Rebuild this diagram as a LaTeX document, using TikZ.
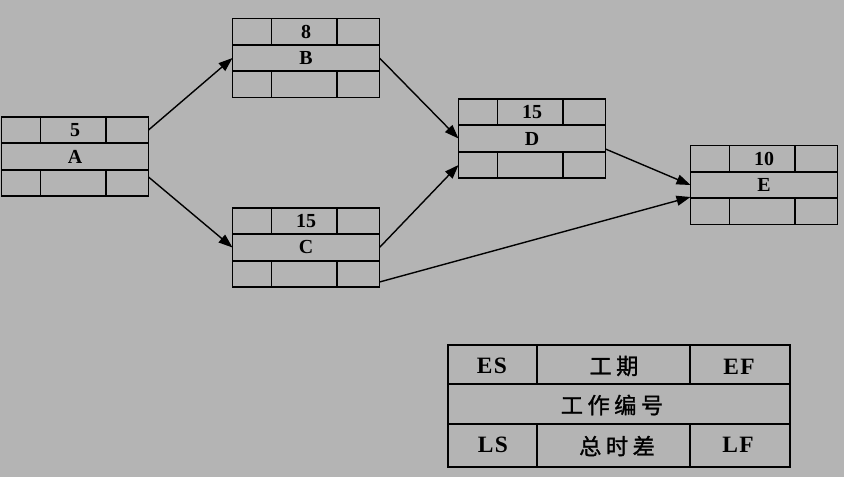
\documentclass[tikz,border=0pt]{standalone}
\usepackage{fontspec}
\setmainfont{Liberation Serif}
\newfontfamily\keyfont{Liberation Serif}[LetterSpace=6]
\newfontfamily\cjk{Noto Sans CJK SC}[LetterSpace=20, FakeBold=1.2]
\usetikzlibrary{arrows.meta, calc}
\definecolor{bggray}{RGB}{180,180,180}

\begin{document}
\begin{tikzpicture}[
    x=0.03cm, y=-0.03cm,
    act/.style={draw, line width=1.5pt, outer sep=0pt, minimum width=4.41cm, minimum height=2.37cm, inner sep=0pt,
        font=\fontsize{17}{18}\selectfont\bfseries,
        label={[anchor=center, font=\fontsize{17}{18}\selectfont\bfseries, yshift=-0.395cm]north:#1}},
    cell/.style={line width=1.5pt},
    link/.style={-{Triangle[length=0.42cm, width=0.3cm]}, line width=1.2pt},
    key/.style={font=\fontsize{20}{22}\selectfont\keyfont\bfseries},
    keycn/.style={font=\fontsize{19}{22}\selectfont\cjk}]

% background
\fill[bggray] (0,0) rectangle (844,477);

% Activities
\node[act=5] (A) at (75,156.5) {A};
\node[act=8] (B) at (306,58) {B};
\node[act=15] (C) at (306,247.5) {C};
\node[act=15] (D) at (532,138.5) {D};
\node[act=10] (E) at (764,185) {E};

% cells of every activity
\foreach \n in {A,B,C,D,E} {
    \draw[cell] ($(\n.north west)+(0,26.3)$) -- +(147,0)
        ($(\n.north west)+(0,52.7)$) -- +(147,0)
        ($(\n.north west)+(39,0)$) -- +(0,26.3)
        ($(\n.north west)+(104.5,0)$) -- +(0,26.3)
        ($(\n.south west)+(39,0)$) -- +(0,-26.3)
        ($(\n.south west)+(104.5,0)$) -- +(0,-26.3);
}

% Links
\draw[link] ($(A.east)+(0,-26.5)$) -- (B.west);
\draw[link] ($(A.east)+(0,20.5)$) -- (C.west);
\draw[link] (B.east) -- (D.west);
\draw[link] (C.east) -- ($(D.west)+(0,26.5)$);
\draw[link] ($(C.east)+(0,34.5)$) -- ($(E.west)+(0,12)$);
\draw[link] ($(D.east)+(0,10.5)$) -- (E.west);

% Legend
\node[draw, line width=1.5pt, minimum width=10.26cm, minimum height=3.66cm, inner sep=0pt] (legend) at (619,406) {};
\draw[cell] (448,384) -- (790,384) (448,424) -- (790,424)
    (537,345) -- (537,384) (690,345) -- (690,384)
    (537,424) -- (537,467) (690,424) -- (690,467);
\node[key] (es) at (492,366) {ES};
\node[keycn] (dur) at (614,366) {工期};
\node[key] (ef) at (739,367) {EF};
\node[keycn] (id) at (612,405) {工作编号};
\node[key] (ls) at (493,445) {LS};
\node[keycn] (tf) at (617,446) {总时差};
\node[key] (lf) at (738,445) {LF};

\end{tikzpicture}
\end{document}
